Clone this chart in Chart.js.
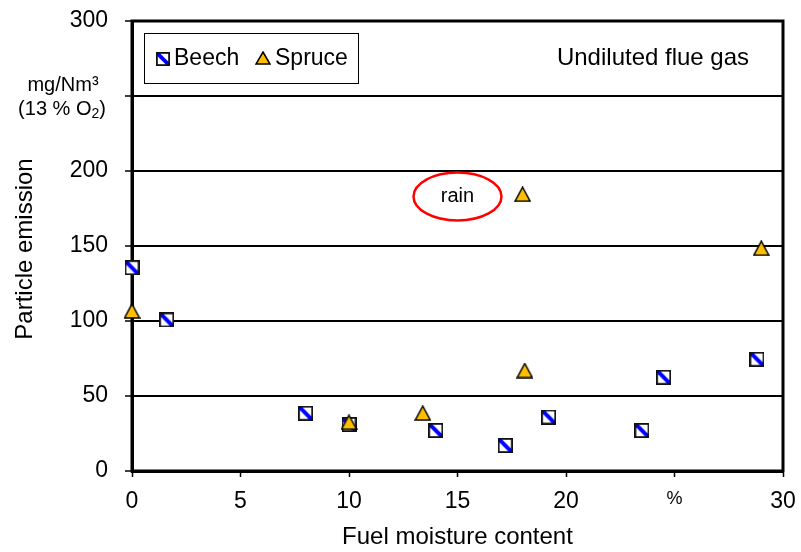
<!DOCTYPE html>
<html>
<head>
<meta charset="utf-8">
<script src="https://cdn.jsdelivr.net/npm/chart.js@4"></script>
<style>
  html, body { margin: 0; padding: 0; background: #fff; }
  canvas { display: block; }
</style>
</head>
<body>
<canvas id="emissionChart" width="801" height="552"></canvas>
<script>
// Data
const beechMoisture = [0, 1.6, 8.0, 10.0, 14.0, 17.2, 19.2, 23.5, 24.5, 28.8];
const beechEmission = [135.5, 100.7, 38.5, 31, 27, 17, 36, 27, 62.5, 74.5];
const spruceMoisture = [0, 10.0, 13.4, 18.0, 18.1, 29.0];
const spruceEmission = [106.7, 32.5, 38.6, 184.5, 67, 148.5];

const yTicks = [0, 50, 100, 150, 200, 250, 300];
const yTickLabels = ['0', '50', '100', '150', '200', '', '300'];
const xTicks = [0, 5, 10, 15, 20, 25, 30];
const xTickLabels = ['0', '5', '10', '15', '20', '%', '30'];

const FONT = "'Liberation Sans', Arial, sans-serif";

// marker images
function makeBeechMarker(size) {
    const c = document.createElement('canvas');
    c.width = size; c.height = size;
    const ctx = c.getContext('2d');
    ctx.fillStyle = '#fff';
    ctx.fillRect(0, 0, size, size);
    ctx.save();
    ctx.beginPath();
    ctx.rect(1, 1, size - 2, size - 2);
    ctx.clip();
    ctx.strokeStyle = '#0000ff';
    ctx.lineWidth = size * 0.27;
    ctx.beginPath();
    ctx.moveTo(0, 0);
    ctx.lineTo(size, size);
    ctx.stroke();
    ctx.restore();
    ctx.strokeStyle = '#111';
    ctx.lineWidth = 1.8;
    ctx.strokeRect(0.9, 0.9, size - 1.8, size - 1.8);
    return c;
}

function makeSpruceMarker(w, h) {
    const c = document.createElement('canvas');
    c.width = w; c.height = h;
    const ctx = c.getContext('2d');
    ctx.beginPath();
    ctx.moveTo(w / 2, 1);
    ctx.lineTo(w - 1, h - 1);
    ctx.lineTo(1, h - 1);
    ctx.closePath();
    ctx.fillStyle = '#ffbf00';
    ctx.fill();
    ctx.strokeStyle = '#000';
    ctx.lineWidth = 1.5;
    ctx.lineJoin = 'miter';
    ctx.stroke();
    return c;
}

const beechPoint = makeBeechMarker(15);
const sprucePoint = makeSpruceMarker(17, 16);
const beechLegend = makeBeechMarker(14);
const spruceLegend = makeSpruceMarker(16, 14);

const decorPlugin = {
    id: 'decor',
    beforeDatasetsDraw(chart) {
        const { ctx, chartArea: a } = chart;
        ctx.save();
        ctx.strokeStyle = '#000';
        ctx.lineWidth = 3;
        ctx.strokeRect(a.left, a.top, a.right - a.left, a.bottom - a.top);
        ctx.restore();
    },
    afterDraw(chart) {
        const { ctx, chartArea: a, scales } = chart;
        const xs = scales.x, ys = scales.y;
        ctx.save();

        // legend box
        ctx.fillStyle = '#fff';
        ctx.fillRect(144, 33, 214, 50);
        ctx.strokeStyle = '#000';
        ctx.lineWidth = 1;
        ctx.strokeRect(144.5, 33.5, 214, 50);
        ctx.drawImage(beechLegend, 156, 52);
        ctx.drawImage(spruceLegend, 255, 51);
        ctx.fillStyle = '#000';
        ctx.font = '23px ' + FONT;
        ctx.textAlign = 'left';
        ctx.textBaseline = 'middle';
        ctx.fillText('Beech', 174, 59);
        ctx.fillText('Spruce', 275, 59);

        // note top right
        ctx.font = '24px ' + FONT;
        ctx.textAlign = 'center';
        ctx.fillText('Undiluted flue gas', 653, 58);

        // rain ellipse
        const rx = xs.getPixelForValue(15), ry = ys.getPixelForValue(183);
        ctx.strokeStyle = '#ff0000';
        ctx.lineWidth = 2.5;
        ctx.beginPath();
        ctx.ellipse(rx, ry, 44, 24, 0, 0, Math.PI * 2);
        ctx.stroke();
        ctx.font = '20px ' + FONT;
        ctx.fillText('rain', rx, ry);

        // unit label in place of 250
        const uy = ys.getPixelForValue(250);
        ctx.font = '20px ' + FONT;
        ctx.textAlign = 'center';
        ctx.fillText('mg/Nm³', 63, uy - 11);
        const main = '(13 % O', sub = '2', tail = ')';
        const w1 = ctx.measureText(main).width, w3 = ctx.measureText(tail).width;
        ctx.font = '14px ' + FONT;
        const w2 = ctx.measureText(sub).width;
        const x0 = 62 - (w1 + w2 + w3) / 2;
        ctx.textAlign = 'left';
        ctx.font = '20px ' + FONT;
        ctx.fillText(main, x0, uy + 13);
        ctx.font = '14px ' + FONT;
        ctx.fillText(sub, x0 + w1, uy + 18);
        ctx.font = '20px ' + FONT;
        ctx.fillText(tail, x0 + w1 + w2, uy + 13);

        // axis titles
        ctx.font = '24px ' + FONT;
        ctx.textAlign = 'center';
        ctx.fillText('Fuel moisture content', (a.left + a.right) / 2, 537);
        ctx.translate(25, (a.top + a.bottom) / 2 + 3);
        ctx.rotate(-Math.PI / 2);
        ctx.fillText('Particle emission', 0, 0);
        ctx.restore();
    }
};

const toPoints = (xs, ys) => xs.map((x, i) => ({ x: x, y: ys[i] }));

new Chart(document.getElementById('emissionChart'), {
    type: 'scatter',
    data: {
        datasets: [{
            label: 'Beech',
            data: toPoints(beechMoisture, beechEmission),
            pointStyle: beechPoint,
            clip: false,
            order: 2
        }, {
            label: 'Spruce',
            data: toPoints(spruceMoisture, spruceEmission),
            pointStyle: sprucePoint,
            clip: false,
            order: 1
        }]
    },
    options: {
        responsive: false,
        animation: false,
        layout: { padding: { top: 21, right: 18, left: 0, bottom: 0 } },
        plugins: {
            legend: { display: false },
            tooltip: { enabled: false }
        },
        scales: {
            x: {
                type: 'linear',
                min: 0,
                max: 30,
                afterFit: s => {
                    s.height = 81;
                    s.paddingLeft = 0;
                    s.paddingRight = 0;
                },
                afterBuildTicks: s => { s.ticks = xTicks.map(v => ({ value: v })); },
                ticks: {
                    callback: v => xTickLabels[xTicks.indexOf(v)],
                    font: ctx => ({ family: FONT, size: ctx.tick && ctx.tick.value === 25 ? 18 : 23 }),
                    color: '#000',
                    padding: 11,
                    maxRotation: 0
                },
                grid: { drawOnChartArea: false, color: '#000', tickLength: 6, tickWidth: 1.5, tickColor: '#000' },
                border: { display: true, color: '#000', width: 3 }
            },
            y: {
                min: 0,
                max: 300,
                afterFit: s => {
                    s.width = 132;
                    s.paddingTop = 0;
                    s.paddingBottom = 0;
                },
                afterBuildTicks: s => { s.ticks = yTicks.map(v => ({ value: v })); },
                ticks: {
                    callback: v => yTickLabels[yTicks.indexOf(v)],
                    font: { family: FONT, size: 23 },
                    color: '#000',
                    padding: 17
                },
                grid: { color: '#000', lineWidth: 2, tickLength: 7, tickWidth: 1.5, tickColor: '#000' },
                border: { display: true, color: '#000', width: 3 }
            }
        }
    },
    plugins: [decorPlugin]
});
</script>
</body>
</html>
